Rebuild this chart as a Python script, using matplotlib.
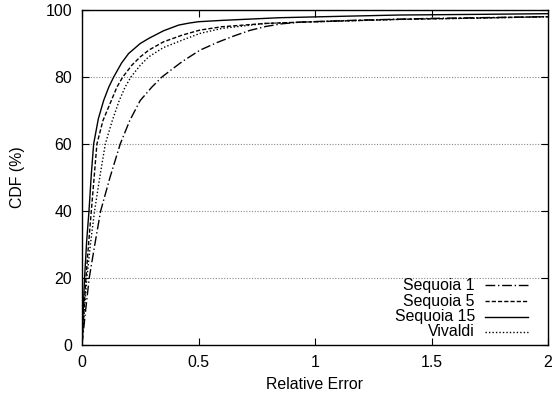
import matplotlib
matplotlib.use("Agg")
import matplotlib.pyplot as plt
from matplotlib.lines import Line2D

plt.rcParams['font.family'] = ['Liberation Sans', 'DejaVu Sans']
plt.rcParams['font.size'] = 11.4

# Data (Relative Error vs CDF %)
seq1_x = [0, 0.015, 0.031, 0.055, 0.08, 0.12, 0.164, 0.205, 0.25, 0.3, 0.343, 0.39, 0.43,
          0.506, 0.58, 0.65, 0.72, 0.79, 0.86, 0.94, 1.2, 1.5, 2.0]
seq1_y = [0, 10, 20, 30, 40, 50, 60, 67, 73, 77, 80, 82.5, 84.6,
          88, 90.3, 92.2, 93.9, 95.1, 95.9, 96.4, 97.0, 97.5, 98.0]

seq5_x = [0, 0.008, 0.017, 0.028, 0.04, 0.052, 0.064, 0.09, 0.126, 0.15, 0.175, 0.215, 0.25,
          0.286, 0.35, 0.43, 0.506, 0.6, 0.79, 1.0, 1.36, 1.7, 2.0]
seq5_y = [0, 10, 20, 30, 40, 50, 60, 67, 73, 77, 80, 83.6, 86,
          88, 90.5, 92.5, 94, 95, 96, 96.5, 97.2, 97.6, 98]

seq15_x = [0, 0.005, 0.011, 0.02, 0.03, 0.04, 0.05, 0.07, 0.093, 0.115, 0.136, 0.17, 0.2,
           0.25, 0.286, 0.35, 0.415, 0.46, 0.5, 0.6, 0.85, 1.1, 1.36, 1.7, 2.0]
seq15_y = [0, 10, 20, 31, 40, 51, 60, 67.5, 73, 77, 80, 84.2, 87,
           90.0, 91.5, 93.8, 95.5, 96.1, 96.5, 96.9, 97.7, 98.1, 98.5, 98.7, 98.9]

viv_x = [0, 0.01, 0.021, 0.036, 0.054, 0.076, 0.1, 0.13, 0.16, 0.185, 0.21, 0.25, 0.286,
         0.35, 0.43, 0.506, 0.6, 0.79, 1.0, 1.36, 1.7, 2.0]
viv_y = [0, 10, 20, 30, 40, 50, 60, 67, 73, 77, 80, 83.5, 86,
         88.8, 91, 93, 94.5, 96, 96.5, 97.2, 97.6, 98]

labels = ["Sequoia 1", "Sequoia 5", "Sequoia 15", "Vivaldi"]
x_ticks = [0, 0.5, 1, 1.5, 2]
x_tick_labels = ["0", "0.5", "1", "1.5", "2"]
y_ticks = [0, 20, 40, 60, 80, 100]

styles = [(0, (7, 2, 1, 2)), (0, (3, 1.5)), '-', (0, (1, 1.5))]

fig = plt.figure(figsize=(5.54, 3.98), dpi=100)
ax = fig.add_axes([82/554, 53/398, 466/554, 335/398])

lw = 1.0
series = [(seq1_x, seq1_y), (seq5_x, seq5_y), (seq15_x, seq15_y), (viv_x, viv_y)]
for (xs, ys), ls, lab in zip(series, styles, labels):
    ax.plot(xs, ys, color='black', lw=lw, linestyle=ls, label=lab)

ax.set_xlim(0, 2)
ax.set_ylim(0, 100)
ax.set_xticks(x_ticks)
ax.set_xticklabels(x_tick_labels)
ax.set_yticks(y_ticks)
ax.tick_params(direction='in', top=True, right=True, length=5, width=0.8, pad=7)
ax.yaxis.grid(True, linestyle=(0, (1, 1.5)), color='#888888', lw=0.8)
for s in ax.spines.values():
    s.set_linewidth(1.0)

ax.set_xlabel("Relative Error", labelpad=5)
ax.set_ylabel("CDF (%)", labelpad=15)

# gnuplot-style key: right-aligned labels followed by line samples
row_y = [0.179, 0.131, 0.085, 0.039]
for ry, ls, lab in zip(row_y, styles, labels):
    ax.text(0.843, ry, lab, transform=ax.transAxes, ha='right', va='center')
    ax.add_line(Line2D([0.865, 0.957], [ry, ry], transform=ax.transAxes,
                       color='black', lw=lw, linestyle=ls))

fig.savefig("out.png", dpi=100)
